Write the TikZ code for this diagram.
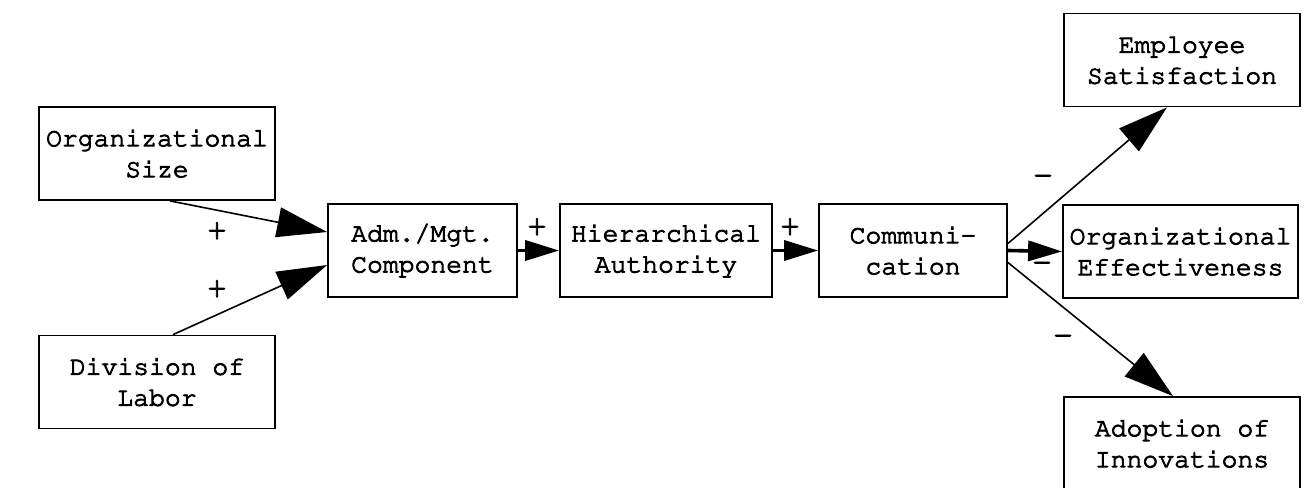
\documentclass[tikz,border=0pt]{standalone}
\usepackage[T1]{fontenc}
\usetikzlibrary{arrows.meta}
% typewriter face used for every label
\newcommand{\typeface}{\fontfamily{pcr}\fontsize{13.2}{15.5}\selectfont}
\newcommand{\signface}{\fontfamily{pcr}\fontsize{17}{17}\selectfont}
% heavier, ribbon-like strokes for the typed letters
\newcommand{\inkon}{\special{pdf:literal direct 2 Tr 0.45 w}}
\begin{document}
\begin{tikzpicture}[x=0.5pt,y=-0.5pt,
  box/.style={draw, line width=0.9pt, inner sep=0pt, align=center,
    font=\typeface, minimum height=46.5pt, execute at begin node=\inkon},
  sign/.style={inner sep=0pt, font=\signface, execute at begin node=\inkon},
  bigarrow/.style={line width=0.8pt, -{Triangle[length=25pt,width=15pt]}},
  shortarrow/.style={line width=1.8pt, -{Triangle[length=17pt,width=10pt]}}]
  \useasboundingbox (0,0) rectangle (1310,487);

  % boxes
  \node[box, minimum width=118pt] (size)   at (157,153.5)  {Organizational\\Size};
  \node[box, minimum width=118pt] (labor)  at (157,382)    {Division of\\Labor};
  \node[box, minimum width=94.5pt] (adm)   at (422.5,250.5) {Adm./Mgt.\\Component};
  \node[box, minimum width=106pt] (hier)   at (666,250.5)  {Hierarchical\\Authority};
  \node[box, minimum width=94pt] (comm)    at (913,250.5)  {Communi-\\cation};
  \node[box, minimum width=118pt] (sat)    at (1182,60)    {Employee\\Satisfaction};
  \node[box, minimum width=117.5pt] (eff)  at (1180.5,251.5) {Organizational\\Effectiveness};
  \node[box, minimum width=118pt] (innov)  at (1182,443.5) {Adoption of\\Innovations};

  % connectors
  \draw[bigarrow] ([xshift=6.5pt]size.south) -- ([yshift=9.25pt]adm.west);
  \draw[bigarrow] ([xshift=8pt]labor.north) -- ([yshift=-7.25pt]adm.west);
  \draw[shortarrow] (adm.east) -- (hier.west);
  \draw[shortarrow] (hier.east) -- (comm.west);
  \draw[shortarrow] (comm.east) -- (eff.west);
  \draw[bigarrow] ([yshift=3.5pt]comm.east) -- ([xshift=-7.5pt]sat.south);
  \draw[bigarrow] ([yshift=-6pt]comm.east) -- ([xshift=-4.5pt]innov.north);

  % signs
  \node[sign] (p1) at (217,232) {+};
  \node[sign] (p2) at (217,290) {+};
  \node[sign] (p3) at (537,228) {+};
  \node[sign] (p4) at (790,228) {+};
  \node[sign] (m1) at (1043,180) {\textendash};
  \node[sign] (m2) at (1042,267) {\textendash};
  \node[sign] (m3) at (1063,340) {\textendash};
\end{tikzpicture}
\end{document}
